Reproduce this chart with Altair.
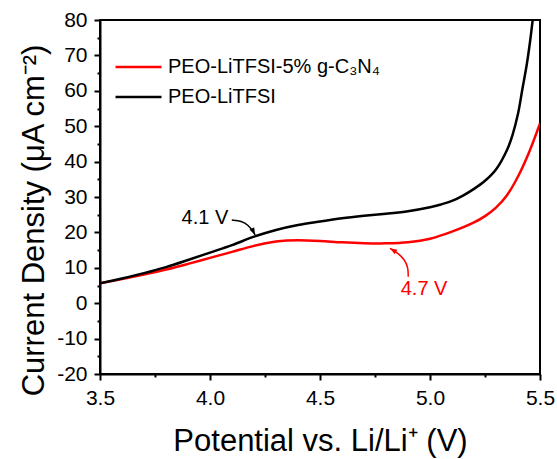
import altair as alt
import pandas as pd

# ---- data ----
black_x = [3.5, 3.6, 3.7, 3.8, 3.9, 4.0, 4.1, 4.2, 4.3, 4.4, 4.5, 4.6, 4.7, 4.8, 4.9, 5.0,
           5.05, 5.1, 5.15, 5.2, 5.25, 5.3, 5.35, 5.375, 5.4, 5.42, 5.44, 5.455, 5.467, 5.472]
black_y = [5.6, 7.0, 8.5, 10.2, 12.2, 14.3, 16.4, 18.8, 20.7, 22.1, 23.1, 24.0, 24.7, 25.3, 26.0, 27.1,
           27.9, 28.9, 30.4, 32.3, 34.6, 37.8, 43.3, 47.5, 53.5, 60.5, 67.5, 74.0, 80.0, 82.0]
red_x = [3.5, 3.6, 3.7, 3.8, 3.9, 4.0, 4.1, 4.2, 4.3, 4.35, 4.4, 4.5, 4.6, 4.7, 4.8, 4.9, 5.0,
         5.1, 5.2, 5.25, 5.3, 5.35, 5.4, 5.45, 5.5]
red_y = [5.6, 6.8, 8.1, 9.5, 11.1, 12.8, 14.5, 16.2, 17.4, 17.7, 17.8, 17.6, 17.2, 16.95, 16.9, 17.2, 18.2,
         20.2, 22.8, 24.6, 27.0, 30.5, 35.8, 42.6, 50.8]

series_names = ["PEO-LiTFSI-5% g-C\u2083N\u2084", "PEO-LiTFSI"]
series_colors = ["#ff0000", "#000000"]

x_major = [3.5, 4.0, 4.5, 5.0, 5.5]
x_minor = [3.75, 4.25, 4.75, 5.25]
y_major = [-20, -10, 0, 10, 20, 30, 40, 50, 60, 70, 80]
y_minor = [-15, -5, 5, 15, 25, 35, 45, 55, 65, 75]

# annotations
ann_text = ["4.1 V", "4.7 V"]
ann_x = [3.977, 4.973]
ann_y = [24.2, 4.0]
ann_color = ["#000000", "#ff0000"]

arrow41_x = [4.099, 4.144, 4.174, 4.197, 4.205]
arrow41_y = [23.5, 23.2, 22.1, 20.2, 19.3]
arrow47_x = [4.901, 4.901, 4.886, 4.856, 4.818]
arrow47_y = [7.5, 9.9, 12.2, 14.1, 15.5]
head_x = [4.205, 4.818]
head_y = [19.3, 15.5]
head_angle = [153, 301]
head_color = ["#000000", "#ff0000"]

# ---- tables ----
curves = pd.concat([
    pd.DataFrame({"V": red_x, "J": red_y, "series": series_names[0], "order": range(len(red_x))}),
    pd.DataFrame({"V": black_x, "J": black_y, "series": series_names[1], "order": range(len(black_x))}),
])
ann = pd.DataFrame({"V": ann_x, "J": ann_y, "t": ann_text, "c": ann_color})
arrows = pd.concat([
    pd.DataFrame({"V": arrow41_x, "J": arrow41_y, "a": "a41", "c": "#000000", "order": range(5)}),
    pd.DataFrame({"V": arrow47_x, "J": arrow47_y, "a": "a47", "c": "#ff0000", "order": range(5)}),
])
heads = pd.DataFrame({"V": head_x, "J": head_y, "ang": head_angle, "c": head_color})

FONT = "Liberation Sans"

xscale = alt.Scale(domain=[3.5, 5.5], nice=False, zero=False)
yscale = alt.Scale(domain=[-20, 80], nice=False, zero=False)

x_axis = alt.Axis(
    orient="bottom", values=x_major, format=".1f", tickSize=6,
    title="Potential vs. Li/Li\u207a (V)",
    titleFontSize=31, titleFontWeight="normal", titleX=220, titleY=76,
    titleBaseline="alphabetic", titleAlign="center",
    labelFontSize=21, labelPadding=7, labelFlush=False, labelOverlap=False, grid=False,
)
y_axis = alt.Axis(
    orient="left", values=y_major, labelExpr="'' + datum.value", tickSize=6,
    title="Current Density (\u03bcA cm\u207b\u00b2)",
    titleFontSize=31, titleFontWeight="normal", titleX=-57, titleY=200,
    titleBaseline="alphabetic", titleAlign="center", titleAngle=270,
    labelFontSize=21, labelPadding=7, labelFlush=False, labelOverlap=False, grid=False,
)
x_axis_minor = alt.Axis(orient="bottom", values=x_minor, tickSize=3, labels=False,
                        domain=False, title=None, grid=False)
y_axis_minor = alt.Axis(orient="left", values=y_minor, tickSize=3, labels=False,
                        domain=False, title=None, grid=False)

lines = alt.Chart(curves).mark_line(strokeWidth=2.5, interpolate="catmull-rom", clip=True).encode(
    x=alt.X("V:Q", scale=xscale, axis=x_axis),
    y=alt.Y("J:Q", scale=yscale, axis=y_axis),
    color=alt.Color("series:N",
                    scale=alt.Scale(domain=series_names, range=series_colors),
                    legend=alt.Legend(title=None, orient="none", legendX=14, legendY=36,
                                      symbolType="stroke", symbolSize=2116, symbolStrokeWidth=2.5,
                                      clipHeight=22, rowPadding=8, labelFontSize=20,
                                      labelOffset=5, padding=0, labelLimit=400)),
    order="order:Q",
)

texts = alt.Chart(ann).mark_text(fontSize=20, font=FONT, align="center", baseline="middle").encode(
    x=alt.X("V:Q", scale=xscale, axis=x_axis_minor),
    y=alt.Y("J:Q", scale=yscale, axis=y_axis_minor),
    text="t:N",
    color=alt.Color("c:N", scale=None, legend=None),
)

arrow_lines = alt.Chart(arrows).mark_line(strokeWidth=1.5, interpolate="basis").encode(
    x=alt.X("V:Q", scale=xscale, axis=None),
    y=alt.Y("J:Q", scale=yscale, axis=None),
    detail="a:N",
    order="order:Q",
    color=alt.Color("c:N", scale=None, legend=None),
)

arrow_heads = alt.Chart(heads).mark_point(
    shape="M0,0L-0.55,1.5L0.55,1.5Z", filled=True, size=90, opacity=1
).encode(
    x=alt.X("V:Q", scale=xscale, axis=None),
    y=alt.Y("J:Q", scale=yscale, axis=None),
    angle=alt.Angle("ang:Q", scale=None),
    color=alt.Color("c:N", scale=None, legend=None),
)

chart = alt.layer(lines, texts, arrow_lines, arrow_heads).resolve_axis(
    x="independent", y="independent"
).properties(
    width=440, height=354,
    autosize=alt.AutoSizeParams(type="none"),
    padding={"left": 100, "top": 20, "right": 17, "bottom": 85},
).configure(
    font=FONT,
).configure_view(
    stroke="#000000", strokeWidth=2,
).configure_axis(
    domainColor="#000000", domainWidth=2, tickColor="#000000", tickWidth=2,
    labelColor="#000000", titleColor="#000000", labelFont=FONT, titleFont=FONT,
).configure_legend(
    labelFont=FONT, labelColor="#000000",
)

chart.save("out.html", embed_options={"renderer": "svg", "actions": False})
